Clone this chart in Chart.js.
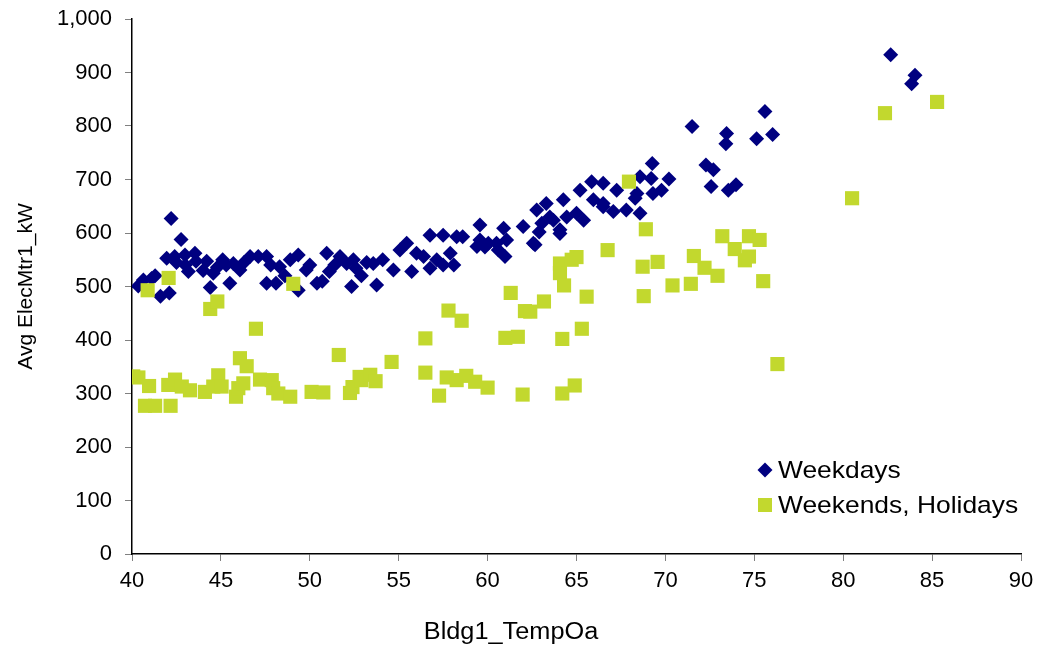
<!DOCTYPE html>
<html lang="en">
<head>
    <meta charset="UTF-8">
    <title>Avg ElecMtr1_kW vs Bldg1_TempOa</title>
    <script src="https://cdn.jsdelivr.net/npm/chart.js"></script>
    <style>
        body { margin: 0; background: #fff; }
        #wrap { width: 1042px; height: 650px; }
    </style>
</head>
<body>
<div id="wrap"><canvas id="scatterChart" width="1042" height="650"></canvas></div>
<script>
// Weekdays: outdoor temp (F) and average electric demand (kW)
const weekdayTemp = [40.35, 40.64, 41.1, 41.6, 42.1, 41.95, 42.2, 42.76, 42.4, 42.98, 43.17, 43.54, 43.6, 44.2, 44.4, 44.57,
    45.1, 45.5, 45.7, 46.07, 46.64, 47.1, 47.57, 47.57, 48.1, 48.3, 48.9, 49.35, 49.35, 49.8, 50.4, 50.95, 51.1, 51.7,
    52.07, 52.35, 52.45, 52.6, 53.57, 53.76, 54.1, 54.7, 55.07, 55.45, 55.73, 56.0, 56.4, 56.76, 56.76, 57.14, 57.5,
    57.5, 57.9, 58.26, 58.6, 59.57, 59.57, 59.4, 59.85, 60.04, 60.5, 60.9, 60.6, 60.98, 61.07, 62.0, 62.57, 62.9,
    62.67, 62.76, 63.3, 63.05, 63.5, 63.7, 64.07, 64.07, 64.26, 64.45, 65.0, 65.2, 65.4, 65.85, 65.95, 66.5, 66.5,
    66.5, 67.07, 67.26, 67.8, 68.3, 68.4, 68.57, 68.57, 69.2, 69.26, 69.3, 69.78, 70.2, 71.5, 72.28, 72.57, 72.7,
    73.4, 73.44, 73.54, 73.97, 75.13, 75.6, 76.03, 82.67, 83.85, 84.04,
    41.3, 42.5, 43.0, 44.0, 44.8, 45.3, 46.3, 47.8, 48.6, 50.0, 50.7, 51.4, 52.9, 53.2, 58.1];
const weekdayKw = [501, 512, 515, 482, 488, 553, 627, 588, 556, 559, 528, 562, 547, 547, 498, 525,
    550, 506, 543, 531, 556, 556, 556, 506, 506, 537, 550, 559, 493, 531, 506, 562, 528, 556,
    543, 500, 550, 534, 543, 503, 550, 531, 568, 581, 528, 562, 556, 596, 534, 550, 596,
    540, 562, 593, 593, 615, 587, 575, 574, 581, 581, 609, 568, 556, 587, 612, 581, 602,
    578, 643, 655, 618, 630, 624, 599, 606, 662, 630, 637, 680, 624, 696, 662, 693, 655,
    649, 640, 680, 643, 665, 674, 637, 705, 702, 730, 674, 680, 701, 799, 727, 687, 718,
    767, 786, 680, 690, 776, 827, 784, 933, 879, 895,
    520, 545, 540, 530, 536, 540, 545, 540, 520, 540, 510, 540, 520, 545, 540];

// Weekends and holidays
const weekendTemp = [40.07, 40.36, 40.88, 40.96, 40.73, 41.3, 42.06, 42.17, 42.04, 42.42, 42.8, 43.26, 44.1, 44.4,
    44.8, 44.85, 44.57, 45.04, 45.85, 45.98, 46.07, 46.26, 46.45, 46.97, 47.2, 47.86, 47.94, 48.23, 48.9, 49.07,
    50.1, 50.76, 51.63, 52.26, 52.4, 52.8, 52.9, 53.4, 53.7, 54.6, 56.5, 56.5, 57.27, 57.7, 57.8, 58.26, 58.54,
    58.8, 59.3, 60.0, 61.0, 61.3, 61.7, 61.97, 62.1, 62.4, 63.17, 64.07, 64.07, 64.2, 64.2, 64.3, 64.73, 64.9,
    65.0, 65.3, 65.57, 66.75, 67.95, 68.72, 68.78, 68.9, 69.56, 70.4, 71.43, 71.6, 72.2, 72.93, 73.2, 73.9,
    74.47, 74.7, 74.7, 75.3, 75.5, 76.3, 80.5, 82.35, 85.28];
const weekendKw = [332, 330, 493, 314, 277, 277, 516, 277, 316, 326, 313, 306, 303, 458,
    472, 334, 313, 313, 294, 310, 366, 319, 351, 421, 326, 325, 310, 300, 294, 505,
    303, 302, 372, 301, 312, 331, 325, 335, 323, 359, 403, 339, 296, 330, 455, 325, 436,
    333, 322, 311, 404, 488, 406, 298, 454, 453, 472, 543, 525, 402, 300, 502, 550, 315,
    555, 421, 481, 568, 696, 537, 482, 607, 546, 502, 505, 557, 535, 520, 594, 570,
    549, 556, 594, 587, 510, 355, 665, 824, 845];

const seriesNames = ["Weekdays", "Weekends, Holidays"];
const xRange = [40, 90, 5];
const yRange = [0, 1000, 100];

const NAVY = "#000080";
const LIME = "#c2d82e";
const FONT = "'Liberation Sans', Arial, sans-serif";

function toPoints(xs, ys) {
    return xs.map((x, i) => ({ x: x, y: ys[i] }));
}

// text in the original is a bit wider than Arial, so stretch it a little
function wideText(ctx, text, x, y, sx) {
    ctx.save();
    ctx.translate(x, y);
    ctx.scale(sx, 1);
    ctx.fillText(text, 0, 0);
    ctx.restore();
}

// x title sits off-centre in the original, and the legend is inside the plot
const extraText = {
    id: "extraText",
    afterDraw(chart) {
        const ctx = chart.ctx;
        ctx.save();
        ctx.fillStyle = "#000";
        ctx.font = "23px " + FONT;
        ctx.textAlign = "center";
        ctx.textBaseline = "middle";
        wideText(ctx, "Bldg1_TempOa", 511, 633, 1.1);

        // legend
        ctx.textAlign = "left";
        ctx.font = "24px " + FONT;
        ctx.fillStyle = NAVY;
        ctx.beginPath();
        ctx.moveTo(765, 462.5);
        ctx.lineTo(772.5, 470);
        ctx.lineTo(765, 477.5);
        ctx.lineTo(757.5, 470);
        ctx.closePath();
        ctx.fill();
        ctx.fillStyle = LIME;
        ctx.fillRect(758, 498, 14, 14);
        ctx.fillStyle = "#000";
        wideText(ctx, seriesNames[0], 778, 471, 1.1);
        wideText(ctx, seriesNames[1], 778, 506, 1.1);
        ctx.restore();
    }
};

new Chart(document.getElementById("scatterChart"), {
    type: "scatter",
    data: {
        datasets: [{
            label: seriesNames[0],
            data: toPoints(weekdayTemp, weekdayKw),
            pointStyle: "rectRot",
            pointRadius: 7.5,
            pointHoverRadius: 7.5,
            backgroundColor: NAVY,
            borderWidth: 0,
            order: 1
        }, {
            label: seriesNames[1],
            data: toPoints(weekendTemp, weekendKw),
            pointStyle: "rect",
            pointRadius: 10,
            pointHoverRadius: 10,
            backgroundColor: LIME,
            borderWidth: 0,
            order: 0
        }]
    },
    options: {
        responsive: false,
        animation: false,
        layout: { padding: { left: 0, right: 21, top: 19, bottom: 0 } },
        plugins: {
            legend: { display: false },
            tooltip: { enabled: false }
        },
        scales: {
            x: {
                type: "linear",
                min: xRange[0],
                max: xRange[1],
                afterFit: s => { s.height = 96; },
                ticks: {
                    stepSize: xRange[2],
                    color: "#000",
                    padding: 7,
                    maxRotation: 0,
                    font: { family: FONT, size: 22 }
                },
                grid: { drawOnChartArea: false, tickLength: 7, color: "#808080" },
                border: { color: "#000", width: 1.5 },
                title: { display: false }
            },
            y: {
                min: yRange[0],
                max: yRange[1],
                afterFit: s => {
                    s.width = 132;
                    s.paddingTop = 0;
                    s.paddingBottom = 0;
                },
                ticks: {
                    stepSize: yRange[2],
                    color: "#000",
                    padding: 13,
                    font: { family: FONT, size: 22 }
                },
                grid: { drawOnChartArea: false, tickLength: 7, color: "#808080" },
                border: { color: "#000", width: 1.5 },
                title: {
                    display: true,
                    text: "Avg ElecMtr1_kW",
                    color: "#000",
                    padding: { top: 14, bottom: 0 },
                    font: { family: FONT, size: 21 }
                }
            }
        }
    },
    plugins: [extraText]
});
</script>
</body>
</html>
